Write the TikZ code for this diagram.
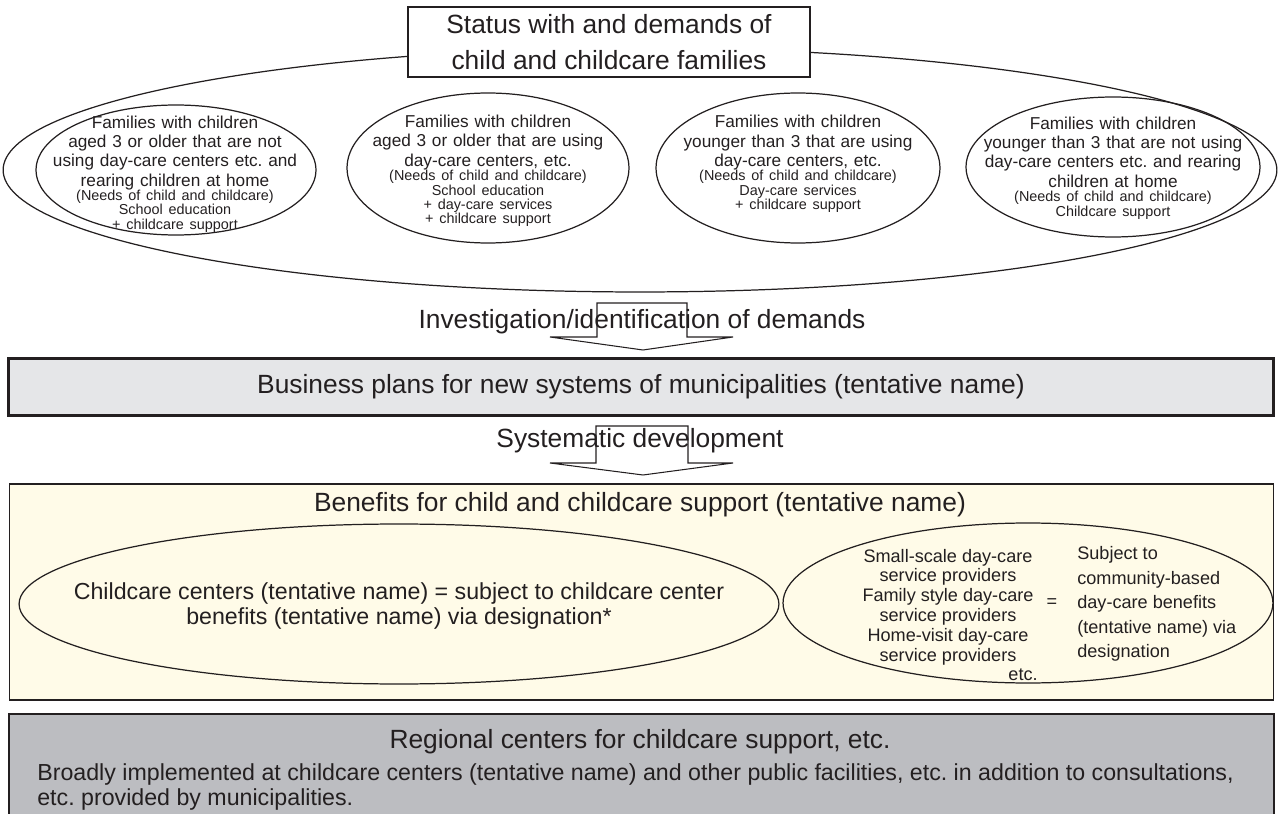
\documentclass[tikz,border=0pt]{standalone}
\usepackage{fontspec}
\setmainfont{Liberation Sans}
\usepackage{tikz}
\usetikzlibrary{shapes.geometric}
\definecolor{inkgray}{HTML}{231F20}
\definecolor{plangray}{HTML}{E5E6E8}
\definecolor{benefitcream}{HTML}{FFFBE8}
\definecolor{regiongray}{HTML}{BCBDC1}
\newcommand{\headfont}{\fontsize{15}{20.5}\selectfont}
\newcommand{\bigfont}{\fontsize{15}{18}\selectfont}
\newcommand{\famfont}{\fontsize{9.8}{11}\selectfont}
\newcommand{\needsfont}{\fontsize{8.2}{8.2}\selectfont}
\newcommand{\provfont}{\fontsize{10.3}{11.3}\selectfont}
\frenchspacing

\begin{document}
\begin{tikzpicture}[x=0.02cm, y=-0.02cm,
    famell/.style={draw=inkgray, ellipse, line width=0.7pt, inner sep=0pt},
    famtext/.style={align=center, text width=5.6cm, inner sep=0pt, text=inkgray, font=\famfont},
    bigtext/.style={text=inkgray, font=\bigfont, inner sep=0pt},
    blockarr/.style={draw=inkgray, line width=0.6pt}]
    \useasboundingbox (0,0) rectangle (1279,814);
    \node[famell, minimum width=25.48cm, minimum height=4.88cm] (allfam) at (640,170) {};
    \node[draw=inkgray, fill=white, line width=0.7pt, minimum width=8.04cm, minimum height=1.4cm,
        align=center, font=\headfont, text=inkgray] (status) at (609,42) {Status with and demands of\\child and childcare families};
    \node[famell, minimum width=5.6cm, minimum height=2.6cm] (fam1) at (176,170) {};
    \node[famell, minimum width=5.64cm, minimum height=3cm] (fam2) at (488,168) {};
    \node[famell, minimum width=5.68cm, minimum height=3cm] (fam3) at (798,168) {};
    \node[famell, minimum width=5.88cm, minimum height=2.8cm] (fam4) at (1113,167) {};
    \node[famtext] (fam1txt) at (175,174) {Families with children\\aged 3 or older that are not\\using day-care centers etc. and\\rearing children at home\par
        {\needsfont (Needs of child and childcare)\\School education\\+ childcare support\par}};
    \node[famtext] (fam2txt) at (488,171) {Families with children\\aged 3 or older that are using\\day-care centers, etc.\par
        {\needsfont (Needs of child and childcare)\\School education\\+ day-care services\\+ childcare support\par}};
    \node[famtext] (fam3txt) at (798,164) {Families with children\\younger than 3 that are using\\day-care centers, etc.\par
        {\needsfont (Needs of child and childcare)\\Day-care services\\+ childcare support\par}};
    \node[famtext] (fam4txt) at (1113,168) {Families with children\\younger than 3 that are not using\\day-care centers etc. and rearing\\children at home\par
        {\needsfont (Needs of child and childcare)\\Childcare support\par}};

    \draw[blockarr] (550,337) -- (597,337) -- (597,303) -- (687,303) -- (687,337) -- (733,337) -- (643,350) -- cycle;
    \node[bigtext] (survey) at (642,322) {Investigation/identification of demands};
    \node[draw=inkgray, fill=plangray, line width=1.8pt, minimum width=25.3cm, minimum height=1.14cm,
        font=\bigfont, text=inkgray] (plans) at (641,387) {Business plans for new systems of municipalities (tentative name)};
    \draw[blockarr] (550,463) -- (596,463) -- (596,426) -- (688,426) -- (688,463) -- (733,463) -- (643,475) -- cycle;
    \node[bigtext] (develop) at (640,441) {Systematic development};

    \node[draw=inkgray, fill=benefitcream, line width=0.7pt, minimum width=25.3cm, minimum height=4.32cm] (benefits) at (641.5,592) {};
    \node[bigtext] (bentitle) at (640,505) {Benefits for child and childcare support (tentative name)};
    \node[famell, minimum width=15.2cm, minimum height=3.2cm] (centers) at (399,604) {};
    \node[align=center, text=inkgray, font=\fontsize{13.2}{14.5}\selectfont] (centerstxt) at (399,606)
        {Childcare centers (tentative name) = subject to childcare center\\benefits (tentative name) via designation*};
    \node[famell, minimum width=9.8cm, minimum height=3.2cm] (community) at (1028,603) {};
    \node[align=center, inner sep=0pt, text=inkgray, font=\provfont] (provtxt) at (948,607)
        {Small-scale day-care\\service providers\\Family style day-care\\service providers\\Home-visit day-care\\service providers};
    \node[anchor=base east, inner sep=0pt, text=inkgray, font=\provfont] (provetc) at (1038,680) {etc.};
    \node[text=inkgray, font=\provfont] (eqsign) at (1052,603) {=};
    \node[anchor=west, align=left, inner sep=0pt, text=inkgray, font=\fontsize{10.3}{13.9}\selectfont] (subjtxt) at (1077,604)
        {Subject to\\community-based\\day-care benefits\\(tentative name) via\\designation};

    \draw[draw=inkgray, fill=regiongray, line width=0.7pt] (9,714) rectangle (1274,830);
    \node[bigtext] (regtitle) at (640,742) {Regional centers for childcare support, etc.};
    \node[anchor=north west, align=left, inner sep=0pt, text=inkgray, font=\fontsize{13.2}{14.7}\selectfont] (regbody) at (37,763)
        {Broadly implemented at childcare centers (tentative name) and other public facilities, etc. in addition to consultations,\\etc. provided by municipalities.};
\end{tikzpicture}
\end{document}
